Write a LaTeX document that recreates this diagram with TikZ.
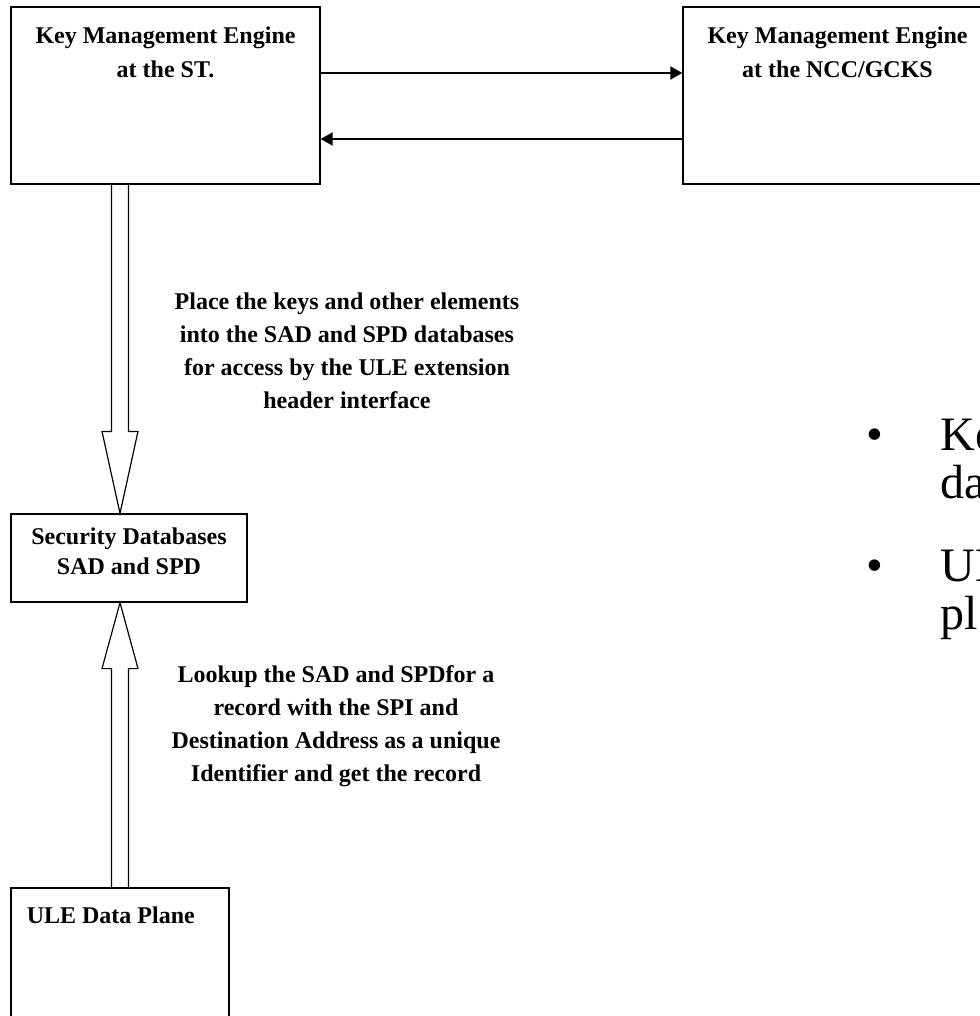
\documentclass[tikz,border=0pt]{standalone}
\usepackage{fontspec}
\setmainfont{Liberation Serif}
\usetikzlibrary{arrows.meta,positioning,calc}

\begin{document}
\begin{tikzpicture}[
    x=0.5pt, y=-0.5pt,
    every node/.style={align=center, inner sep=0pt},
    engine box/.style={draw, line width=0.6pt, minimum width=154.5pt, minimum height=88.5pt},
    db box/.style={draw, line width=0.6pt, minimum width=118pt, minimum height=44pt},
    plane box/.style={draw, line width=0.6pt, minimum width=109pt, minimum height=76pt},
    bold text/.style={font=\fontsize{12}{17}\selectfont\bfseries},
    note text/.style={font=\fontsize{12}{16.5}\selectfont\bfseries},
    bullet text/.style={font=\fontsize{24}{29}\selectfont, anchor=base west},
    key arrow/.style={draw, line width=1pt, -{Triangle[length=6pt, width=6.5pt]}},
    hollow arrow/.style={draw, line width=0.6pt},
    ]
\useasboundingbox (0,0) rectangle (979,1016);
\node[engine box] (KMEst) at (165.5,95.5) {};
\node[engine box] (KMEncc) at (837.5,95.5) {};
\node[db box] (SDB) at (129,558) {};
\node[plane box] (ULE) at (120,964) {};
\node[bold text, below=10pt of KMEst.north] (KMEstName) {Key Management Engine\\at the ST.};
\node[bold text, below=10pt of KMEncc.north] (KMEnccName) {Key Management Engine\\at the NCC/GCKS};
\node[font=\fontsize{12}{15}\selectfont\bfseries, below=7pt of SDB.north] (SDBName) {Security Databases\\SAD and SPD};
\node[bold text, below right=9.5pt and 8pt of ULE.north west] (ULEName) {ULE Data Plane};
\node[note text, anchor=north] (placeNote) at (347,292) {Place the keys and other elements\\into the SAD and SPD databases\\for access by the ULE extension\\header interface};
\node[note text, anchor=north] (lookupNote) at (336,665) {Lookup the SAD and SPDfor a\\record with the SPI and\\Destination Address as a unique\\Identifier and get the record};
\coordinate (pushY) at (0,73);
\coordinate (pullY) at (0,139);
\draw[key arrow] (KMEst.east |- pushY) -- (KMEncc.west |- pushY);
\draw[key arrow] (KMEncc.west |- pullY) -- (KMEst.east |- pullY);
\coordinate (downFrom) at (ULE.north |- KMEst.south);
\coordinate (downTo) at (ULE.north |- SDB.north);
\draw[hollow arrow] ($(downFrom)+(-8.5,0)$) -- ($(downTo)+(-8.5,-82)$) -- ($(downTo)+(-18,-82)$) -- (downTo)
    -- ($(downTo)+(18,-82)$) -- ($(downTo)+(8.5,-82)$) -- ($(downFrom)+(8.5,0)$);
\coordinate (upFrom) at (ULE.north);
\coordinate (upTo) at (ULE.north |- SDB.south);
\draw[hollow arrow] ($(upFrom)+(-8.5,0)$) -- ($(upTo)+(-8.5,66)$) -- ($(upTo)+(-18,66)$) -- (upTo)
    -- ($(upTo)+(18,66)$) -- ($(upTo)+(8.5,66)$) -- ($(upFrom)+(8.5,0)$);
\node[bullet text, anchor=base] (dotA) at (875,450) {•};
\node[bullet text] (keyLineA) at (940,450) {Ke};
\node[bullet text] (keyLineB) at (940,498) {da};
\node[bullet text, anchor=base] (dotB) at (875,581) {•};
\node[bullet text] (uleLineA) at (940,581) {UL};
\node[bullet text] (uleLineB) at (940,629) {pl};
\end{tikzpicture}
\end{document}
